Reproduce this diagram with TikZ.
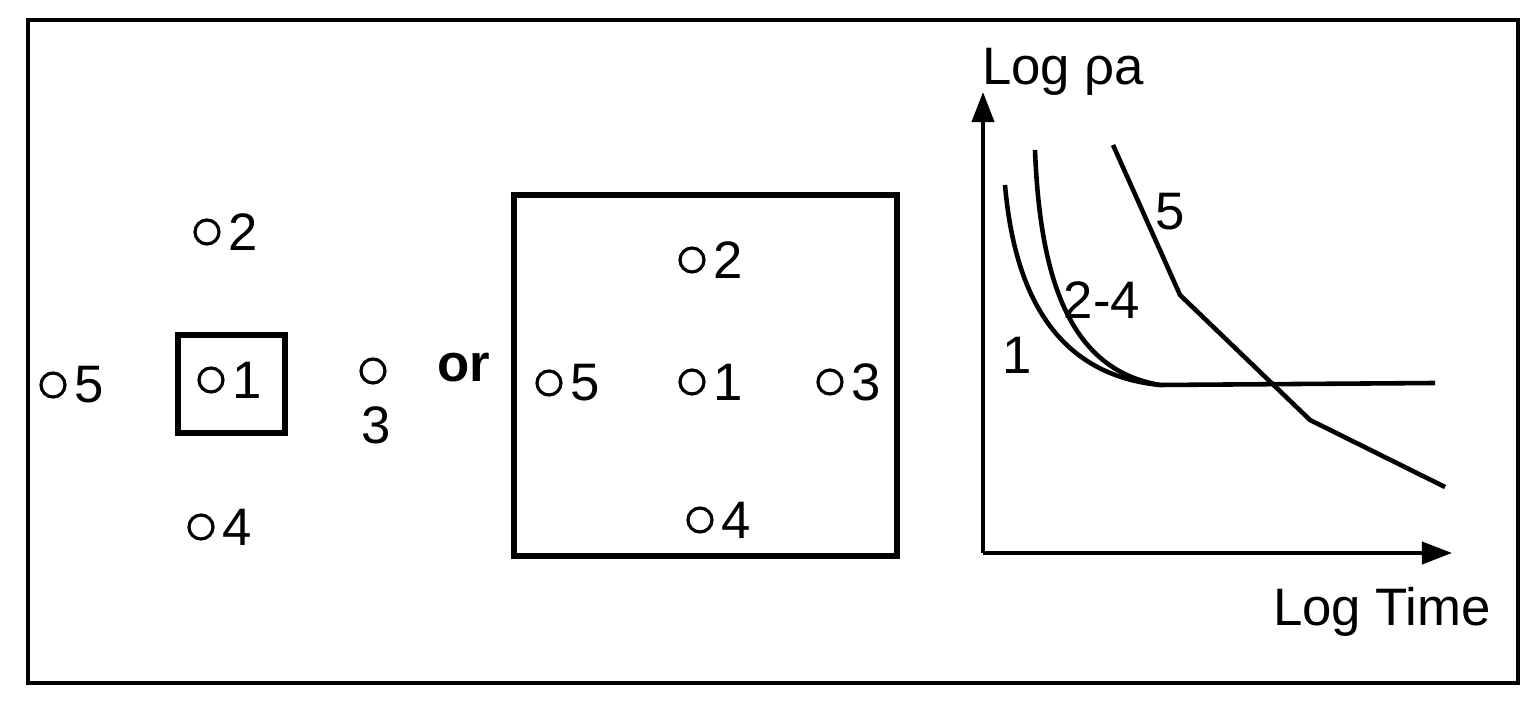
\documentclass[tikz,border=0pt]{standalone}
\usepackage{fontspec}
\setmainfont{Liberation Sans}
\usetikzlibrary{positioning,arrows.meta}
\tikzset{
  well/.style={circle,draw,line width=0.9pt,minimum size=0.24cm,inner sep=0pt},
  lbl/.style={font=\fontsize{15}{17}\selectfont,inner sep=1pt},
  curve/.style={line width=1.3pt}
}
\begin{document}
\begin{tikzpicture}[x=0.01cm,y=-0.01cm]
            \useasboundingbox (0,0) rectangle (1533,713);
            % Draw the frames
            \draw[line width=0.9pt] (28,20) rectangle (1518,683);
            \draw[line width=1.5pt] (178,335) rectangle (285,433);
            \draw[line width=1.5pt] (514,195) rectangle (897,556);

            % Draw the wells, small layout
            \node[well] (a2) at (207,232) {};
            \node[lbl,right=1pt of a2] {2};
            \node[well] (a5) at (53,385) {};
            \node[lbl,right=1pt of a5] {5};
            \node[well] (a1) at (211,380) {};
            \node[lbl,right=1pt of a1] {1};
            \node[well] (a3) at (373,371) {};
            \node[lbl] at (376,425) {3};
            \node[well] (a4) at (201,527) {};
            \node[lbl,right=1pt of a4] {4};
            \node[lbl,font=\fontsize{15}{17}\selectfont\bfseries] at (464,368) {or};

            % Draw the wells, large layout
            \node[well] (b2) at (692,260) {};
            \node[lbl,right=1pt of b2] {2};
            \node[well] (b5) at (549,383) {};
            \node[lbl,right=1pt of b5] {5};
            \node[well] (b1) at (692,382) {};
            \node[lbl,right=1pt of b1] {1};
            \node[well] (b3) at (830,382) {};
            \node[lbl,right=1pt of b3] {3};
            \node[well] (b4) at (700,520) {};
            \node[lbl,right=1pt of b4] {4};

            % Draw the axes
            \coordinate (o) at (983,553);
            \coordinate (yt) at (983,92);
            \coordinate (xt) at (1452,553);
            \draw[line width=1.1pt,-{Triangle[length=0.3cm,width=0.22cm]}] (o) -- (yt);
            \draw[line width=1.1pt,-{Triangle[length=0.3cm,width=0.22cm]}] (o) -- (xt);
            \node[lbl] at (1063,72) {Log ρa};
            \node[lbl] at (1382,612) {Log Time};

            % Draw the curves
            \draw[curve] (1005,185) .. controls (1015,300) and (1060,375) .. (1160,385) -- (1435,383);
            \draw[curve] (1035,150) .. controls (1040,280) and (1070,370) .. (1160,385);
            \draw[curve] (1113,145) -- (1180,295) -- (1310,420) -- (1445,487);
            \node[lbl] at (1017,355) {1};
            \node[lbl] at (1102,300) {2-4};
            \node[lbl] at (1170,212) {5};
        \end{tikzpicture}
\end{document}
